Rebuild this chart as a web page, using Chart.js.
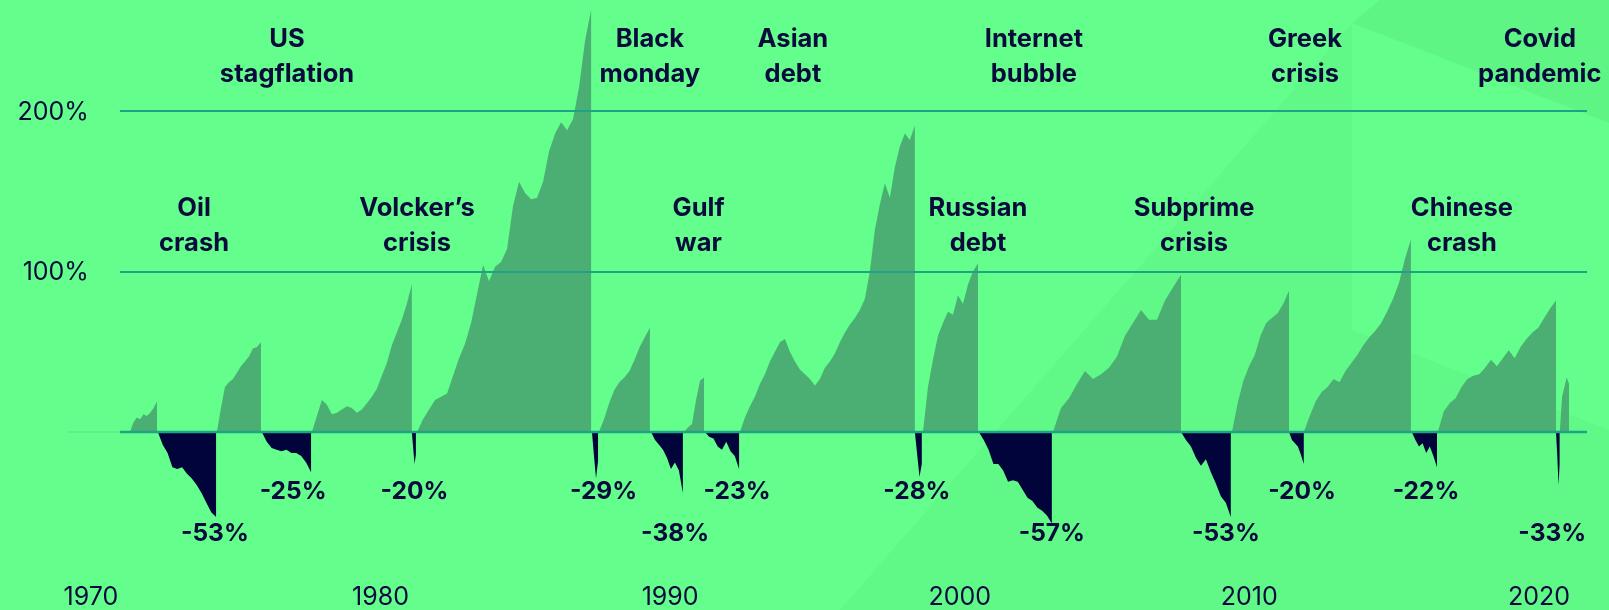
<!DOCTYPE html>
<html>
<head>
<meta charset="utf-8">
<script src="https://cdn.jsdelivr.net/npm/chart.js@4.4.1/dist/chart.umd.min.js"></script>
<style>
  html, body { margin: 0; padding: 0; background: #63FE8B; }
  #wrap { width: 1609px; height: 610px; }
  canvas { display: block; }
</style>
</head>
<body>
<div id="wrap"><canvas id="c" width="1609" height="610"></canvas></div>
<script>
// ---- Data (x in years, y in % return from start of each phase) ----
const tickYears = [1970, 1980, 1990, 2000, 2010, 2020];
const yTickValues = [100, 200];
const yTickLabels = ['100%', '200%'];

const bullStart = [1971.35, 1974.35, 1977.63, 1981.26, 1987.54, 1990.48, 1992.41, 1998.73, 2003.22, 2009.40, 2011.88, 2016.51, 2020.72];
const bullEnd   = [1972.28, 1975.87, 1981.08, 1987.27, 1989.30, 1991.17, 1998.45, 2000.63, 2007.64, 2011.37, 2015.58, 2020.59, 2021.04];
const bullRuns = [
  [0, 6, 9, 8, 11, 10, 12, 15, 19],
  [0, 15, 28, 31, 33, 37, 41, 44, 47, 52, 53, 56],
  [0, 10, 20, 17, 11, 12, 14, 16, 15, 12, 14, 18, 22, 27, 35, 43, 54, 62, 70, 80, 92],
  [0, 8, 14, 20, 22, 24, 35, 46, 55, 68, 86, 104, 94, 103, 106, 114, 141, 156, 149, 145, 146, 156, 175, 186, 193, 188, 195, 215, 244, 263],
  [0, 8, 18, 26, 31, 34, 38, 45, 53, 59, 65],
  [0, 3, 5, 20, 32, 34],
  [0, 9, 16, 22, 30, 36, 44, 50, 56, 58, 50, 44, 39, 36, 33, 29, 33, 40, 44, 49, 56, 62, 67, 71, 76, 83, 100, 126, 142, 155, 146, 165, 178, 186, 182, 191],
  [0, 28, 45, 60, 68, 75, 73, 85, 80, 92, 100, 105],
  [0, 15, 21, 30, 38, 33, 36, 40, 47, 60, 68, 76, 70, 70, 82, 90, 98],
  [0, 18, 32, 41, 48, 60, 68, 71, 74, 80, 88],
  [0, 10, 19, 25, 28, 33, 31, 38, 43, 48, 54, 59, 63, 68, 75, 83, 93, 108, 120],
  [0, 13, 18, 21, 28, 33, 35, 36, 40, 45, 41, 46, 51, 46, 53, 58, 62, 65, 71, 77, 82],
  [0, 22, 28, 34, 30]
];

const bearStart = [1972.31, 1975.90, 1981.08, 1987.30, 1989.34, 1991.20, 1998.45, 2000.66, 2007.64, 2011.37, 2015.61, 2020.59];
const bearEnd   = [1974.32, 1977.60, 1981.22, 1987.51, 1990.44, 1992.38, 1998.69, 2003.18, 2009.36, 2011.88, 2016.48, 2020.72];
const bearRuns = [
  [0, -8, -13, -22, -23, -22, -26, -29, -33, -38, -44, -50, -53],
  [0, -6, -10, -11, -12, -11, -13, -13, -15, -19, -25],
  [0, -10, -20, -14],
  [0, -15, -29, -18],
  [0, -5, -8, -11, -16, -23, -19, -24, -38],
  [0, -3, -4, -9, -11, -6, -12, -15, -23],
  [0, -14, -28, -20],
  [0, -5, -11, -20, -20, -24, -31, -30, -31, -36, -41, -43, -47, -49, -52, -57],
  [0, -5, -9, -16, -21, -17, -25, -32, -40, -44, -53],
  [0, -5, -7, -9, -14, -20],
  [0, -5, -9, -7, -13, -9, -15, -22],
  [0, -15, -33, -20]
];

const bearLabels     = ['-53%', '-25%', '-20%', '-29%', '-38%', '-23%', '-28%', '-57%', '-53%', '-20%', '-22%', '-33%'];
const bearLabelYears = [1974.28, 1976.98, 1981.17, 1987.70, 1990.17, 1992.31, 1998.52, 2003.18, 2009.19, 2011.82, 2016.10, 2020.46];
const bearLabelRow   = [1, 0, 0, 0, 1, 0, 0, 1, 1, 0, 0, 1];

const eventLines = [
  ['US', 'stagflation'], ['Black', 'monday'], ['Asian', 'debt'], ['Internet', 'bubble'], ['Greek', 'crisis'], ['Covid', 'pandemic'],
  ['Oil', 'crash'], ['Volcker\u2019s', 'crisis'], ['Gulf', 'war'], ['Russian', 'debt'], ['Subprime', 'crisis'], ['Chinese', 'crash']
];
const eventYears = [1976.77, 1989.30, 1994.24, 2002.56, 2011.92, 2020.03, 1973.56, 1981.26, 1990.98, 2000.63, 2008.09, 2017.34];
const eventRow   = [0, 0, 0, 0, 0, 0, 1, 1, 1, 1, 1, 1];

// ---- Build point lists from the runs ----
function buildSeries(starts, ends, runs) {
  const pts = [];
  runs.forEach((vals, i) => {
    const n = vals.length;
    for (let k = 0; k < n; k++) {
      pts.push({ x: starts[i] + (ends[i] - starts[i]) * k / (n - 1), y: vals[k] });
    }
    pts.push({ x: ends[i], y: 0 });
  });
  return pts;
}

const NAVY = '#0A0B3C';
const GRID = '#1FA386';

const decor = {
  id: 'decor',
  beforeDraw(chart) {
    const ctx = chart.ctx;
    ctx.save();
    ctx.fillStyle = '#63FE8B';
    ctx.fillRect(0, 0, chart.width, chart.height);
    // subtle background facets
    ctx.fillStyle = 'rgba(20,80,40,0.035)';
    ctx.beginPath();
    ctx.moveTo(840, 610); ctx.lineTo(1352, 23); ctx.lineTo(1352, 330); ctx.lineTo(1609, 430); ctx.lineTo(1609, 610);
    ctx.closePath(); ctx.fill();
    ctx.fillStyle = 'rgba(20,80,40,0.05)';
    ctx.beginPath();
    ctx.moveTo(1352, 23); ctx.lineTo(1380, 0); ctx.lineTo(1609, 0); ctx.lineTo(1609, 123);
    ctx.closePath(); ctx.fill();
    ctx.restore();
  },
  afterDatasetsDraw(chart) {
    const ctx = chart.ctx;
    const xs = chart.scales.x, ys = chart.scales.y;
    const area = chart.chartArea;
    const gx0 = xs.getPixelForValue(1971.0);
    ctx.save();
    // faint zero-line lead-in
    ctx.strokeStyle = 'rgba(31,163,134,0.25)';
    ctx.lineWidth = 1;
    ctx.beginPath();
    ctx.moveTo(xs.getPixelForValue(1969.2), ys.getPixelForValue(0));
    ctx.lineTo(gx0, ys.getPixelForValue(0));
    ctx.stroke();
    // grid lines
    ctx.strokeStyle = GRID;
    [0].concat(yTickValues).forEach(v => {
      const y = Math.round(ys.getPixelForValue(v));
      ctx.lineWidth = v === 0 ? 2.5 : 2;
      ctx.beginPath();
      ctx.moveTo(gx0, y);
      ctx.lineTo(area.right, y);
      ctx.stroke();
    });
    // y tick labels
    ctx.fillStyle = NAVY;
    ctx.font = '400 25px Inter';
    ctx.textAlign = 'right';
    ctx.textBaseline = 'middle';
    yTickValues.forEach((v, i) => {
      ctx.fillText(yTickLabels[i], gx0 - 31, ys.getPixelForValue(v) + 1);
    });
    // event annotations
    ctx.font = '700 25.5px Inter';
    ctx.textAlign = 'center';
    ctx.textBaseline = 'alphabetic';
    const rowBase = [ys.getPixelForValue(240), ys.getPixelForValue(134.6)];
    eventLines.forEach((lines, i) => {
      const x = xs.getPixelForValue(eventYears[i]);
      const y = rowBase[eventRow[i]];
      ctx.fillText(lines[0], x, y);
      ctx.fillText(lines[1], x, y + 35);
    });
    // bear market labels
    ctx.font = '700 24.5px Inter';
    const bearBase = [ys.getPixelForValue(-41.7), ys.getPixelForValue(-67.9)];
    bearLabels.forEach((t, i) => {
      ctx.fillText(t, xs.getPixelForValue(bearLabelYears[i]), bearBase[bearLabelRow[i]]);
    });
    ctx.restore();
  }
};

new Chart(document.getElementById('c'), {
  type: 'line',
  data: {
    datasets: [
      {
        label: 'Bull',
        data: buildSeries(bullStart, bullEnd, bullRuns),
        backgroundColor: '#4BAF73',
        borderWidth: 0,
        pointRadius: 0,
        fill: 'origin',
        tension: 0
      },
      {
        label: 'Bear',
        data: buildSeries(bearStart, bearEnd, bearRuns),
        backgroundColor: '#00043A',
        borderWidth: 0,
        pointRadius: 0,
        fill: 'origin',
        tension: 0
      }
    ]
  },
  options: {
    responsive: false,
    animation: false,
    devicePixelRatio: 1,
    layout: { padding: { left: 62, right: 22, top: 0, bottom: 0 } },
    plugins: { legend: { display: false }, tooltip: { enabled: false } },
    scales: {
      x: {
        type: 'linear',
        min: 1969,
        max: 2021.66,
        afterBuildTicks: s => { s.ticks = tickYears.map(v => ({ value: v })); },
        grid: { display: false, drawTicks: false },
        border: { display: false },
        ticks: {
          padding: 0,
          maxRotation: 0,
          autoSkip: false,
          color: NAVY,
          font: { family: 'Inter', size: 25, weight: '400', lineHeight: 1.04 },
          callback: v => String(v)
        }
      },
      y: {
        display: false,
        min: -94.7,
        max: 269.2
      }
    }
  },
  plugins: [decor]
});
</script>
</body>
</html>
